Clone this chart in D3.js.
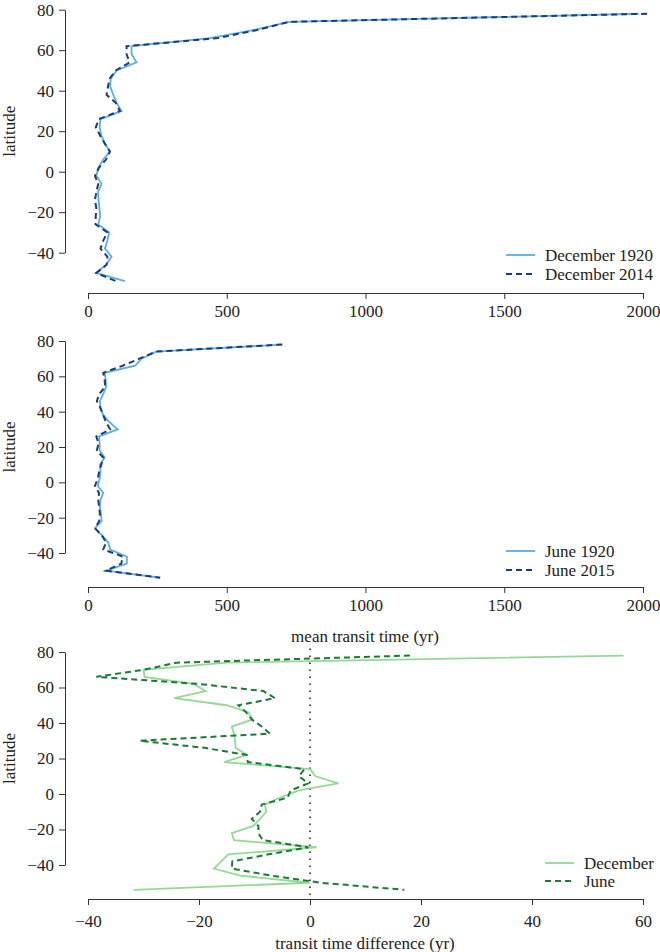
<!DOCTYPE html>
<html>
<head>
<meta charset="utf-8">
<script src="https://cdn.jsdelivr.net/npm/d3@7"></script>
<style>
  body { margin: 0; background: #fff; }
  svg { display: block; font-family: "Liberation Serif", "DejaVu Serif", serif; }
</style>
</head>
<body>
<svg id="chart" width="660" height="952"></svg>
<script>
// latitude grid shared by every series
const lats = [78, 74, 70, 66, 62, 58, 54, 50, 46, 42, 38, 34, 30, 26, 22, 18, 14, 10,
              6, 2, -2, -6, -10, -14, -18, -22, -26, -30, -34, -38, -42, -46, -50, -54];

// panel 1: December mean transit time (yr)
const dec1920 = [1985, 725, 600, 440, 157, 157, 175, 103, 82, 80, 91, 103, 121, 45, 42, 48, 60, 79,
                 55, 37, 30, 49, 36, 38, 41, 44, 37, 76, 70, 61, 85, 65, 29, 133];
const dec2014 = [2015, 725, 610, 470, 139, 139, 150, 100, 78, 72, 67, 100, 115, 40, 28, 43, 60, 79,
                 65, 40, 25, 37, 30, 25, 30, 28, 27, 70, 55, 45, 70, 67, 30, 100];

// panel 2: June mean transit time (yr)
const jun1920 = [700, 245, 193, 170, 60, 64, 65, 55, 43, 45, 55, 78, 107, 40, 42, 42, 60, 43,
                 45, 42, 35, 55, 45, 43, 47, 49, 25, 50, 73, 80, 140, 140, 67, 260];
const jun2015 = [700, 245, 185, 125, 55, 60, 62, 40, 32, 45, 55, 65, 80, 30, 38, 32, 55, 48,
                 40, 35, 25, 40, 37, 40, 43, 40, 25, 50, 65, 55, 125, 120, 65, 260];

// panel 3: transit time difference (yr)
const decDiff = [56.5, -15, -30, -29.8, -21, -18.8, -24.5, -15, -11.1, -10.3, -14.1, -13.7, -13.5, -13.4, -11.4, -15.5, 0, 1,
                 5.1, -2, -5.4, -8.1, -7.9, -9, -10.2, -14.1, -13.7, 1.2, -14.7, -16, -17.3, -12.6, 0, -31.8];
const junDiff = [18, -24, -30, -38.5, -20, -8.4, -6.3, -12.9, -11.5, -10.5, -8.7, -7.2, -30.7, -19, -11.4, -11.2, -1, -2,
                 -0.3, -3.5, -4, -8.7, -9, -10.5, -9.3, -9.3, -8.5, -0.3, -7.5, -14, -14.1, -7, 2, 17];

const latTicks = [80, 60, 40, 20, 0, -20, -40];
const timeTicks = [0, 500, 1000, 1500, 2000];
const diffTicks = [-40, -20, 0, 20, 40, 60];

const lightBlue = "#5dade2";
const navy = "#1b3c78";
const lightGreen = "#94d994";
const darkGreen = "#1a7a3a";

const svg = d3.select("#chart");
const left = 88, right = 643;
const fontSize = "17px";

const panels = [
  {
    top: 9.7, bottom: 252.7, axisY: 293, labelPad: 6,
    xDomain: [0, 2000], ticks: timeTicks,
    series: [
      { values: dec1920, color: lightBlue, dash: null, width: 1.8, name: "December 1920" },
      { values: dec2014, color: navy, dash: "6,4", width: 2, name: "December 2014" }
    ],
    legend: { x: 506, y: 255, tx: 39, gap: 19 }
  },
  {
    top: 341, bottom: 553, axisY: 587, labelPad: 6,
    xDomain: [0, 2000], ticks: timeTicks,
    title: { text: "mean transit time (yr)", y: 642 },
    series: [
      { values: jun1920, color: lightBlue, dash: null, width: 1.8, name: "June 1920" },
      { values: jun2015, color: navy, dash: "6,4", width: 2, name: "June 2015" }
    ],
    legend: { x: 506, y: 551, tx: 39, gap: 19 }
  },
  {
    top: 652, bottom: 865, axisY: 899, labelPad: 10,
    xDomain: [-40, 60], ticks: diffTicks, zeroLine: true,
    title: { text: "transit time difference (yr)", y: 949 },
    series: [
      { values: decDiff, color: lightGreen, dash: null, width: 1.8, name: "December" },
      { values: junDiff, color: darkGreen, dash: "6,4", width: 2, name: "June" }
    ],
    legend: { x: 545, y: 863, tx: 39, gap: 18 }
  }
];

panels.forEach(p => {
  const x = d3.scaleLinear().domain(p.xDomain).range([left, right]);
  const y = d3.scaleLinear().domain([-40, 80]).range([p.bottom, p.top]);
  const g = svg.append("g");

  // y axis
  const yAxis = g.append("g")
    .attr("transform", "translate(65,0)")
    .call(d3.axisLeft(y).tickValues(latTicks).tickSize(6).tickPadding(5).tickSizeOuter(0));
  // x axis
  const xAxis = g.append("g")
    .attr("transform", `translate(0,${p.axisY})`)
    .call(d3.axisBottom(x).tickValues(p.ticks).tickSize(6).tickPadding(p.labelPad)
      .tickSizeOuter(0).tickFormat(d3.format("d")));

  [yAxis, xAxis].forEach(a => {
    a.selectAll("path, line").attr("stroke", "#333").attr("stroke-width", 1);
    a.selectAll("text").attr("fill", "#222").style("font-size", fontSize)
      .style("font-family", "'Liberation Serif', serif");
  });

  g.append("text")
    .attr("transform", `translate(15,${(p.top + p.bottom) / 2}) rotate(-90)`)
    .attr("text-anchor", "middle")
    .style("font-size", fontSize)
    .attr("fill", "#222")
    .text("latitude");

  if (p.title) {
    g.append("text")
      .attr("x", 365).attr("y", p.title.y)
      .attr("text-anchor", "middle")
      .style("font-size", fontSize)
      .attr("fill", "#222")
      .text(p.title.text);
  }

  if (p.zeroLine) {
    g.append("line")
      .attr("x1", x(0)).attr("x2", x(0))
      .attr("y1", y(82)).attr("y2", p.axisY)
      .attr("stroke", "#222").attr("stroke-width", 1.6)
      .attr("stroke-dasharray", "1.6,5.4");
  }

  const line = d3.line()
    .x(d => x(d[1]))
    .y(d => y(d[0]));

  p.series.forEach(s => {
    g.append("path")
      .datum(lats.map((l, i) => [l, s.values[i]]))
      .attr("fill", "none")
      .attr("stroke", s.color)
      .attr("stroke-width", s.width)
      .attr("stroke-dasharray", s.dash)
      .attr("d", line);
  });

  // legend
  const lg = g.append("g").attr("transform", `translate(${p.legend.x},${p.legend.y})`);
  p.series.forEach((s, i) => {
    lg.append("line")
      .attr("x1", 0).attr("x2", 29)
      .attr("y1", i * p.legend.gap).attr("y2", i * p.legend.gap)
      .attr("stroke", s.color)
      .attr("stroke-width", s.width)
      .attr("stroke-dasharray", s.dash);
    lg.append("text")
      .attr("x", p.legend.tx).attr("y", i * p.legend.gap + 6)
      .style("font-size", fontSize)
      .attr("fill", "#222")
      .text(s.name);
  });
});
</script>
</body>
</html>
